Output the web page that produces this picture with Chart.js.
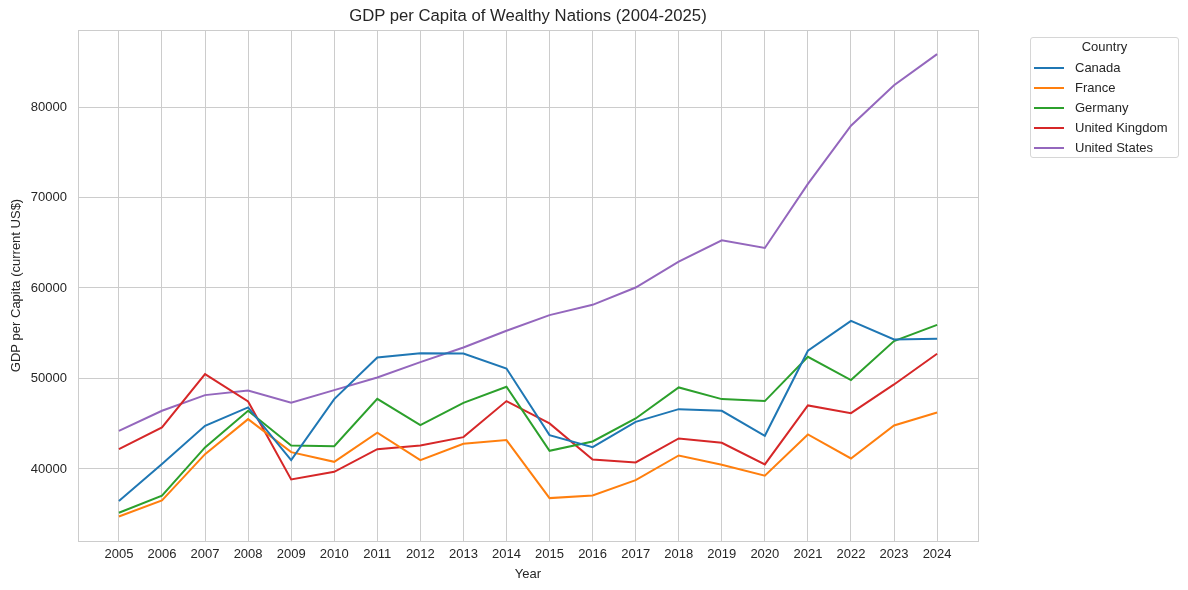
<!DOCTYPE html>
<html>
<head>
<meta charset="utf-8">
<script src="https://cdn.jsdelivr.net/npm/chart.js@4"></script>
<style>
  html, body { margin: 0; padding: 0; background: #fff; }
  body { font-family: "Liberation Sans", Arial, sans-serif; color: #262626; }
  #wrap { position: relative; width: 1188px; height: 590px; }
  #title { position: absolute; left: 78px; width: 900px; top: 6px; text-align: center; font-size: 16.7px; line-height: 20px; }
  #legend { position: absolute; left: 1030px; top: 37px; width: 149px; height: 121px; border: 1px solid #d6d6d6; border-radius: 3px; box-sizing: border-box; font-size: 13px; }
  #legend .lt { text-align: center; height: 20px; line-height: 18px; }
  #legend .row { height: 20px; line-height: 20px; position: relative; white-space: nowrap; }
  #legend .sw { position: absolute; left: 3px; top: 9px; width: 30px; height: 2px; }
  #legend .lb { position: absolute; left: 44px; }
</style>
</head>
<body>
<div id="wrap">
  <canvas id="gdpChart" width="1188" height="590"></canvas>
  <div id="title">GDP per Capita of Wealthy Nations (2004-2025)</div>
  <div id="legend"></div>
</div>
<script>
// ── Data ──────────────────────────────────────────────────────────────────────
const YEARS   = [2005, 2006, 2007, 2008, 2009, 2010, 2011, 2012, 2013, 2014,
                 2015, 2016, 2017, 2018, 2019, 2020, 2021, 2022, 2023, 2024];
const CANADA  = [36450, 40550, 44770, 46800, 40980, 47720, 52320, 52800, 52760, 51100,
                 43740, 42410, 45210, 46610, 46430, 43670, 53060, 56370, 54310, 54380];
const FRANCE  = [34750, 36520, 41640, 45510, 41860, 40790, 44000, 40980, 42780, 43190,
                 36780, 37070, 38770, 41490, 40460, 39250, 43810, 41160, 44810, 46240];
const GERMANY = [35160, 37040, 42380, 46430, 42600, 42520, 47750, 44840, 47310, 49080,
                 42010, 43040, 45580, 49010, 47720, 47500, 52390, 49820, 54130, 55930];
const UK      = [42190, 44590, 50480, 47460, 38840, 39690, 42190, 42600, 43520, 47500,
                 45030, 41050, 40720, 43370, 42890, 40500, 47020, 46170, 49340, 52730];
const USA     = [44220, 46430, 48160, 48670, 47310, 48710, 50110, 51810, 53430, 55270,
                 57000, 58140, 60050, 62920, 65270, 64420, 71500, 77930, 82400, 85850];
const Y_TICKS = [40000, 50000, 60000, 70000, 80000];

const SERIES = [
    ['Canada', CANADA, '#1f77b4'],
    ['France', FRANCE, '#ff7f0e'],
    ['Germany', GERMANY, '#2ca02c'],
    ['United Kingdom', UK, '#d62728'],
    ['United States', USA, '#9467bd'],
];

const FONT = '"Liberation Sans", Arial, sans-serif';
const TXT  = '#262626';
const GRID = '#cccccc';

// Kotak abu-abu di sekeliling area plot (gaya whitegrid).
const frame = {
    id: 'frame',
    afterDatasetsDraw(chart) {
        const { ctx, chartArea: a } = chart;
        ctx.save();
        ctx.strokeStyle = GRID;
        ctx.lineWidth = 1;
        ctx.strokeRect(Math.round(a.left) + 0.5, Math.round(a.top) + 0.5,
                       Math.round(a.right - a.left), Math.round(a.bottom - a.top));
        ctx.restore();
    },
};

new Chart(document.getElementById('gdpChart'), {
    type: 'line',
    data: {
        datasets: SERIES.map(([label, vals, color]) => ({
            label,
            data: YEARS.map((x, i) => ({ x, y: vals[i] })),
            borderColor: color,
            backgroundColor: color,
            borderWidth: 2,
            pointRadius: 0,
            tension: 0,
        })),
    },
    options: {
        responsive: false,
        animation: false,
        layout: { padding: { top: 30, right: 210, left: 0, bottom: 0 } },
        plugins: { legend: { display: false }, tooltip: { enabled: false } },
        scales: {
            x: {
                type: 'linear',
                min: 2004.05, max: 2024.95,
                afterBuildTicks: (s) => { s.ticks = YEARS.map(v => ({ value: v })); },
                afterFit: (s) => { s.height = 49; },
                grid: { color: GRID, lineWidth: 1, drawTicks: false },
                border: { display: false },
                ticks: { color: TXT, font: { family: FONT, size: 13 }, padding: 6,
                         maxRotation: 0, autoSkip: false, callback: (v) => String(v) },
                title: { display: true, text: 'Year', color: TXT,
                         font: { family: FONT, size: 13 }, padding: { top: 0, bottom: 8 } },
            },
            y: {
                min: 32040, max: 88510,
                afterBuildTicks: (s) => { s.ticks = Y_TICKS.map(v => ({ value: v })); },
                afterFit: (s) => { s.width = 78; },
                grid: { color: GRID, lineWidth: 1, drawTicks: false },
                border: { display: false },
                ticks: { color: TXT, font: { family: FONT, size: 13 }, padding: 11,
                         callback: (v) => String(v) },
                title: { display: true, text: 'GDP per Capita (current US$)', color: TXT,
                         font: { family: FONT, size: 13 }, padding: { top: 9, bottom: 0 } },
            },
        },
    },
    plugins: [frame],
});

// ── Legend HTML ───────────────────────────────────────────────────────────────
document.getElementById('legend').innerHTML =
    '<div class="lt">Country</div>' +
    SERIES.map(([label, , color]) =>
        `<div class="row"><span class="sw" style="background:${color};"></span><span class="lb">${label}</span></div>`
    ).join('');
</script>
</body>
</html>
